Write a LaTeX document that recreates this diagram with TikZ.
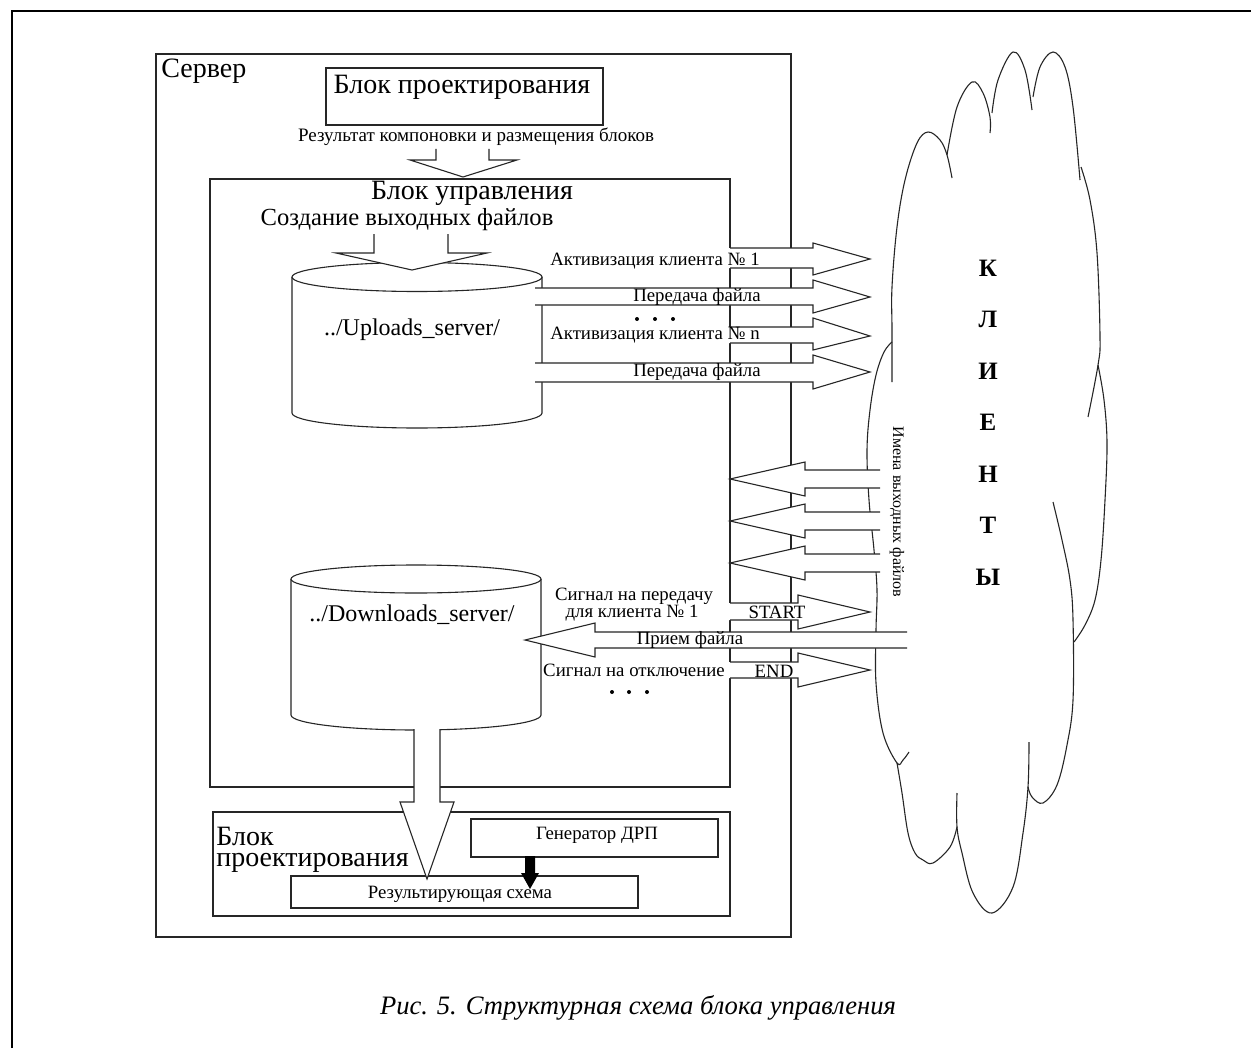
\documentclass[tikz,border=0pt]{standalone}
\usepackage{fontspec}
\setmainfont{Liberation Serif}
\begin{document}
\begin{tikzpicture}[x=0.5pt,y=-0.5pt,
  ln/.style={line width=0.55pt,draw=black!85},
  frame/.style={line width=1.1pt,draw=black},
  bigt/.style={font=\fontsize{14}{15}\selectfont,inner sep=0pt},
  midt/.style={font=\fontsize{12}{13}\selectfont,inner sep=0pt},
  smallt/.style={font=\fontsize{9.4}{10}\selectfont,inner sep=0pt},
  klt/.style={font=\fontsize{12.5}{13}\selectfont\bfseries,inner sep=0pt},
  dotc/.style={circle,fill=black,inner sep=0pt,minimum size=2pt},
  ]
\useasboundingbox (0,0) rectangle (1251,1048);
\fill[white] (0,0) rectangle (1251,1048);
\draw[frame] (12,1048) -- (12,11) -- (1251,11);

% ---------- boxes ----------
\coordinate (srvA) at (156,54);   \coordinate (srvB) at (791,937);
\draw[ln] (srvA) rectangle (srvB);
\coordinate (bpA) at (326,68);    \coordinate (bpB) at (603,125);
\draw[ln] (bpA) rectangle (bpB);
\coordinate (buA) at (210,179);   \coordinate (buB) at (730,787);
\draw[ln] (buA) rectangle (buB);
\coordinate (bbA) at (213,812);   \coordinate (bbB) at (730,916);
\draw[ln] (bbA) rectangle (bbB);
\coordinate (genA) at (471,819);  \coordinate (genB) at (718,857);
\draw[ln] (genA) rectangle (genB);
\coordinate (resA) at (291,876);  \coordinate (resB) at (638,908);
\draw[ln] (resA) rectangle (resB);

% ---------- cylinders ----------
\draw[ln,fill=white] (292,277) -- (292,413) arc[start angle=180,end angle=360,x radius=62.5pt,y radius=7.5pt] -- (542,277);
\draw[ln,fill=white] (417,277) ellipse[x radius=62.5pt,y radius=7.25pt];
\draw[ln,fill=white] (291,579) -- (291,715) arc[start angle=180,end angle=360,x radius=62.5pt,y radius=7.5pt] -- (541,579);
\draw[ln,fill=white] (416,579) ellipse[x radius=62.5pt,y radius=7pt];

% ---------- cloud ----------
\draw[ln,line join=round] plot[smooth,tension=0.6] coordinates {(892,382) (892,330) (892,287) (897,227) (905,180) (917,143) (928,132) (940,140) (947,155) (952,178)};
\draw[ln] plot[smooth,tension=0.6] coordinates {(947,155) (957,107) (972,82) (983,93) (990,117) (990,133)};
\draw[ln] plot[smooth,tension=0.6] coordinates {(992,113) (998,80) (1013,52) (1025,70) (1032,110)};
\draw[ln] plot[smooth,tension=0.6] coordinates {(1033,97) (1040,67) (1053,52) (1065,67) (1073,107) (1080,180)};
\draw[ln] plot[smooth,tension=0.6] coordinates {(1081,167) (1090,200) (1097,253) (1100,337) (1098,365) (1088,417)};
\draw[ln] plot[smooth,tension=0.6] coordinates {(1098,365) (1104,400) (1107,443) (1105,500) (1101,560) (1095,600) (1085,625) (1074,642)};
\draw[ln] plot[smooth,tension=0.6] coordinates {(1053,502) (1062,540) (1070,580) (1073,620) (1073,700) (1067,745) (1057,785) (1043,803) (1032,797) (1028,787)};
\draw[ln] plot[smooth,tension=0.6] coordinates {(1029,742) (1028,787) (1023,833) (1013,887) (992,913) (973,893) (962,853) (957,827) (957,793)};
\draw[ln] plot[smooth,tension=0.6] coordinates {(957,827) (950,847) (933,863) (923,860) (915,853) (908,833) (902,793) (897,763)};
\draw[ln] plot[smooth,tension=0.6] coordinates {(909,752) (903,760) (897,763) (883,733) (876,683) (876,630) (877,590) (874,550) (869,500) (867,450) (870,410) (876,375) (884,352) (892,342)};

% ---------- block arrows (white) ----------
\filldraw[ln,fill=white] (436,149) -- (436,160) -- (410,160) -- (463,177) -- (517,160) -- (489,160) -- (489,149);
\filldraw[ln,fill=white] (374,234) -- (374,253) -- (336,253) -- (412,270) -- (487,253) -- (448,253) -- (448,234);
\fill[white] (728,248) -- (813,248) -- (813,243) -- (870,259) -- (813,275) -- (813,268) -- (728,268) -- cycle;
\draw[ln] (730,248) -- (813,248) -- (813,243) -- (870,259) -- (813,275) -- (813,268) -- (730,268);
\fill[white] (535,288) -- (813,288) -- (813,280) -- (870,297) -- (813,313) -- (813,305) -- (535,305) -- cycle;
\draw[ln] (535,288) -- (813,288) -- (813,280) -- (870,297) -- (813,313) -- (813,305) -- (535,305);
\fill[white] (728,327) -- (813,327) -- (813,318) -- (870,336) -- (813,350) -- (813,343) -- (728,343) -- cycle;
\draw[ln] (730,327) -- (813,327) -- (813,318) -- (870,336) -- (813,350) -- (813,343) -- (730,343);
\fill[white] (535,363) -- (813,363) -- (813,355) -- (870,372) -- (813,389) -- (813,382) -- (535,382) -- cycle;
\draw[ln] (535,363) -- (813,363) -- (813,355) -- (870,372) -- (813,389) -- (813,382) -- (535,382);
\foreach \yc in {479,521,563}{
  \fill[white] (882,\yc-9) -- (805,\yc-9) -- (805,\yc-17) -- (730,\yc) -- (805,\yc+17) -- (805,\yc+9) -- (882,\yc+9) -- cycle;
  \draw[ln] (880,\yc-9) -- (805,\yc-9) -- (805,\yc-17) -- (730,\yc) -- (805,\yc+17) -- (805,\yc+9) -- (880,\yc+9);
}
\fill[white] (728,603) -- (798,603) -- (798,595) -- (870,612) -- (798,629) -- (798,620) -- (728,620) -- cycle;
\draw[ln] (730,603) -- (798,603) -- (798,595) -- (870,612) -- (798,629) -- (798,620) -- (730,620);
\fill[white] (909,632) -- (595,632) -- (595,623) -- (525,640) -- (595,657) -- (595,648) -- (909,648) -- cycle;
\draw[ln] (907,632) -- (595,632) -- (595,623) -- (525,640) -- (595,657) -- (595,648) -- (907,648);
\fill[white] (728,662) -- (798,662) -- (798,653) -- (870,670) -- (798,687) -- (798,678) -- (728,678) -- cycle;
\draw[ln] (730,662) -- (798,662) -- (798,653) -- (870,670) -- (798,687) -- (798,678) -- (730,678);
\filldraw[ln,fill=white] (414,729) -- (414,802) -- (400,802) -- (427,879) -- (454,802) -- (440,802) -- (440,729);
\fill[black] (525,856) -- (535,856) -- (535,873) -- (539,873) -- (530,889) -- (521,873) -- (525,873) -- cycle;

% ---------- texts ----------
\node[bigt,anchor=west] (tserv) at (161,71) {Сервер};
\node[bigt] (tbp) at (462,87) {Блок проектирования};
\node[smallt,font=\fontsize{9.5}{10}\selectfont] (tres) at (476,137) {Результат компоновки и размещения блоков};
\node[bigt] (tbu) at (472,193) {Блок управления};
\node[bigt,font=\fontsize{12.3}{13}\selectfont] (tcr) at (407,220) {Создание выходных файлов};
\node[midt] (tup) at (412,330) {../Uploads\_server/};
\node[midt] (tdown) at (412,615) {../Downloads\_server/};
\node[smallt] (ta1) at (655,261) {Активизация клиента № 1};
\node[smallt] (tp1) at (697,297) {Передача файла};
\node[dotc] (d1) at (637,319) {}; \node[dotc] (d2) at (655,319) {}; \node[dotc] (d3) at (673,319) {};
\node[smallt] (tan) at (655,335) {Активизация клиента № n};
\node[smallt] (tp2) at (697,372) {Передача файла};
\node[smallt] (tsig1) at (634,596) {Сигнал на передачу};
\node[smallt] (tsig2) at (632,613) {для клиента № 1};
\node[smallt] (tstart) at (777,612) {START};
\node[smallt] (trec) at (690,640) {Прием файла};
\node[smallt] (toff) at (634,670) {Сигнал на отключение};
\node[smallt] (tend) at (774,671) {END};
\node[dotc] (e1) at (612,692) {}; \node[dotc] (e2) at (629,692) {}; \node[dotc] (e3) at (647,692) {};
\node[inner sep=0pt,font=\fontsize{8}{9}\selectfont,rotate=-90] (tnames) at (897,512) {Имена выходных файлов};
\foreach \ch [count=\i from 0] in {К,Л,И,Е,Н,Т,Ы}{
  \node[klt] (k\i) at (988,268+51.5*\i) {\ch};
}
\node[bigt,anchor=base west] (tbp2a) at (216,845) {Блок};
\node[bigt,anchor=base west] (tbp2b) at (216,866) {проектирования};
\node[smallt] (tgen) at (597,835) {Генератор ДРП};
\node[smallt] (tresult) at (460,894) {Результирующая схема};
\node[font=\fontsize{13.3}{14}\selectfont\itshape,inner sep=0pt] (cap) at (638,1008) {Рис. 5. Структурная схема блока управления};
\end{tikzpicture}
\end{document}
